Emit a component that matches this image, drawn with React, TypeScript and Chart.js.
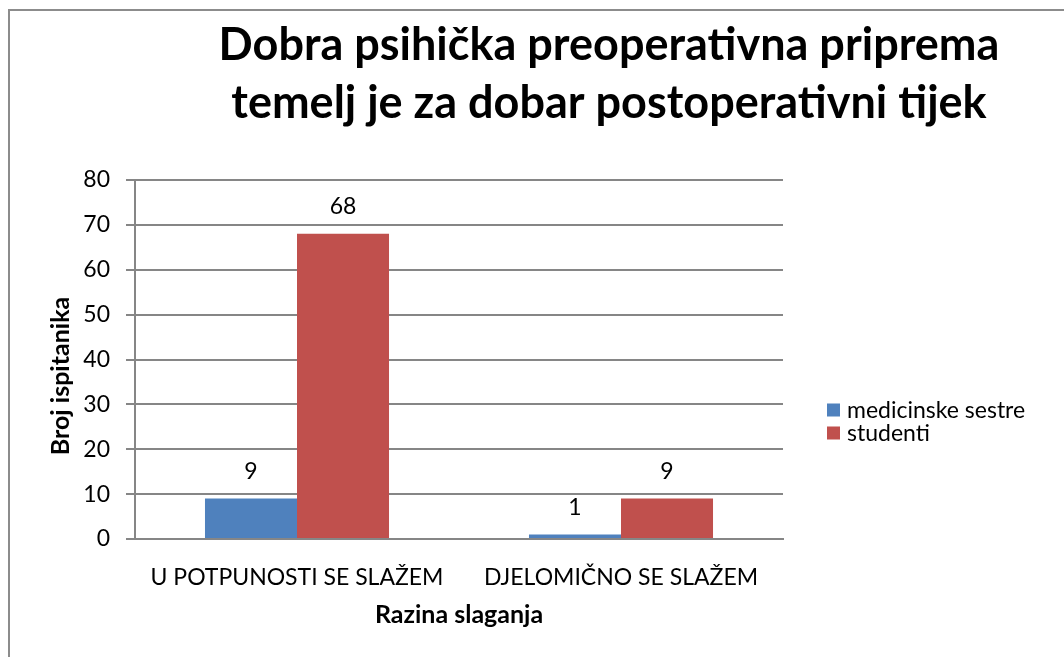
import { useEffect, useRef } from "react";
import { Chart, registerables } from "chart.js";

Chart.register(...registerables);

const titleLines = ["Dobra psihička preoperativna priprema", "temelj je za dobar postoperativni tijek"];
const categories = ["U POTPUNOSTI SE SLAŽEM", "DJELOMIČNO SE SLAŽEM"];
const seriesNames = ["medicinske sestre", "studenti"];
const sestreValues = [9, 1];
const studentiValues = [68, 9];
const seriesColors = ["#4F81BD", "#C0504D"];
const yMin = 0;
const yMax = 80;
const yStep = 10;
const xTitle = "Razina slaganja";
const yTitle = "Broj ispitanika";

const FONT = "Lato, 'Open Sans', sans-serif";
const GRID = "#868686";

const titlePlugin = {
  id: "customTitle",
  afterDraw(chart: any) {
    const ctx = chart.ctx;
    ctx.save();
    ctx.fillStyle = "#000";
    ctx.font = `bold 45px ${FONT}`;
    ctx.textAlign = "center";
    ctx.textBaseline = "alphabetic";
    ctx.fillText(titleLines[0], 609, 60);
    ctx.fillText(titleLines[1], 609, 118);
    ctx.restore();
  },
};

const yTitlePlugin = {
  id: "yAxisTitle",
  afterDraw(chart: any) {
    const ctx = chart.ctx;
    ctx.save();
    ctx.fillStyle = "#000";
    ctx.font = `bold 25px ${FONT}`;
    ctx.textAlign = "center";
    ctx.textBaseline = "middle";
    ctx.translate(61, 376);
    ctx.rotate(-Math.PI / 2);
    ctx.fillText(yTitle, 0, 0);
    ctx.restore();
  },
};

const legendPlugin = {
  id: "customLegend",
  afterDraw(chart: any) {
    const ctx = chart.ctx;
    ctx.save();
    ctx.font = `23px ${FONT}`;
    ctx.textBaseline = "middle";
    ctx.textAlign = "left";
    chart.data.datasets.forEach((ds: any, i: number) => {
      const cy = 410 + i * 23;
      ctx.fillStyle = ds.backgroundColor;
      ctx.fillRect(827, cy - 6.5, 13, 13);
      ctx.fillStyle = "#000";
      ctx.fillText(ds.label, 847, cy + 1);
    });
    ctx.restore();
  },
};

const valueLabelPlugin = {
  id: "valueLabels",
  afterDatasetsDraw(chart: any) {
    const ctx = chart.ctx;
    ctx.save();
    ctx.font = `23px ${FONT}`;
    ctx.fillStyle = "#000";
    ctx.textAlign = "center";
    ctx.textBaseline = "middle";
    chart.data.datasets.forEach((ds: any, i: number) => {
      const meta = chart.getDatasetMeta(i);
      meta.data.forEach((el: any, j: number) => {
        ctx.fillText(String(ds.data[j]), el.x, el.y - 27);
      });
    });
    ctx.restore();
  },
};

export default function App() {
  const ref = useRef<HTMLCanvasElement | null>(null);

  useEffect(() => {
    if (!ref.current) return;
    const chart = new Chart(ref.current, {
      type: "bar",
      data: {
        labels: categories,
        datasets: [
          { label: seriesNames[0], data: sestreValues, backgroundColor: seriesColors[0] },
          { label: seriesNames[1], data: studentiValues, backgroundColor: seriesColors[1] },
        ],
      },
      options: {
        responsive: false,
        animation: false,
        devicePixelRatio: 1,
        categoryPercentage: 0.568,
        barPercentage: 1,
        layout: { padding: { top: 180, right: 281, bottom: 0, left: 0 } },
        plugins: {
          legend: { display: false },
          title: { display: false },
          tooltip: { enabled: false },
        },
        scales: {
          x: {
            grid: { display: false, drawTicks: false },
            border: { color: GRID, width: 2 },
            ticks: { padding: 25, color: "#000", font: { family: FONT, size: 23 } },
            title: {
              display: true,
              text: xTitle,
              color: "#000",
              font: { family: FONT, size: 25, weight: "bold" },
              padding: { top: 0, bottom: 27 },
            },
            afterFit(s: any) {
              s.height = 118;
            },
          },
          y: {
            min: yMin,
            max: yMax,
            ticks: { stepSize: yStep, padding: 16, color: "#000", font: { family: FONT, size: 23 } },
            grid: { color: GRID, lineWidth: 2, tickLength: 9 },
            border: { color: GRID, width: 2 },
            title: { display: false, text: yTitle },
            afterFit(s: any) {
              s.width = 135;
            },
          },
        },
      } as any,
      plugins: [titlePlugin, yTitlePlugin, legendPlugin, valueLabelPlugin],
    });
    return () => chart.destroy();
  }, []);

  return (
    <div style={{ position: "fixed", left: 0, top: 0, width: 1064, height: 657, overflow: "hidden", background: "#fff" }}>
      <div
        style={{
          position: "absolute",
          left: 8,
          top: 9,
          width: 1200,
          height: 800,
          borderLeft: "2px solid #8c8c8c",
          borderTop: "2px solid #8c8c8c",
        }}
      />
      <canvas ref={ref} width={1064} height={657} style={{ position: "absolute", left: 0, top: 0, display: "block" }} />
    </div>
  );
}
